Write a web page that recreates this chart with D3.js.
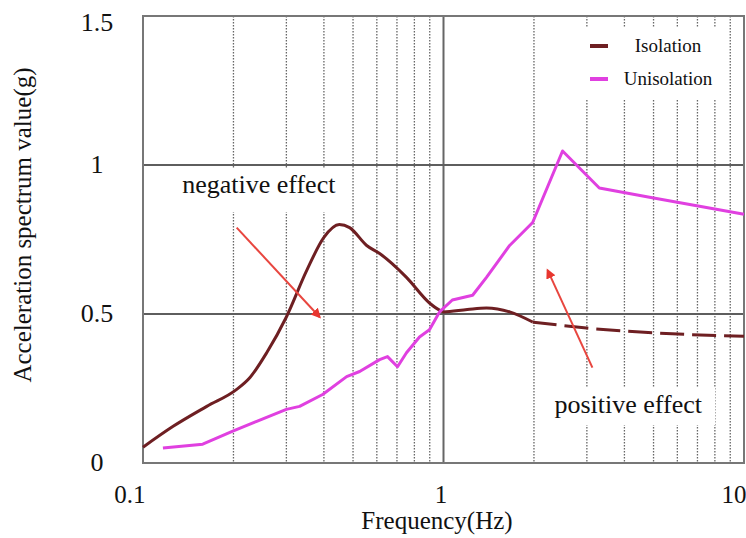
<!DOCTYPE html>
<html>
<head>
<meta charset="utf-8">
<script src="https://cdn.jsdelivr.net/npm/d3@7"></script>
<style>
  body { margin: 0; background: #fff; }
  text { font-family: "Liberation Serif", "Times New Roman", serif; fill: #111; }
</style>
</head>
<body>
<script>
// values
const isoFreq = [0.1, 0.126, 0.163, 0.205, 0.227, 0.258, 0.30, 0.351, 0.40, 0.45, 0.487, 0.555, 0.613, 0.753, 0.898, 0.97, 1.0, 1.2, 1.39, 1.66, 1.98, 2.99, 4.95, 10]
const isoVal  = [0.053, 0.123, 0.19, 0.247, 0.287, 0.37, 0.49, 0.647, 0.757, 0.80, 0.79, 0.73, 0.703, 0.623, 0.537, 0.513, 0.507, 0.515, 0.52, 0.507, 0.473, 0.453, 0.437, 0.425]
const dashFrom = 1.98   // isolation curve turns dashed here

const unisoFreq = [0.1165, 0.158, 0.199, 0.239, 0.30, 0.332, 0.396, 0.476, 0.526, 0.613, 0.651, 0.703, 0.753, 0.832, 0.898, 0.97, 1.07, 1.25, 1.39, 1.66, 1.98, 2.49, 3.30, 4.95, 10]
const unisoVal  = [0.05, 0.063, 0.107, 0.14, 0.18, 0.19, 0.23, 0.29, 0.307, 0.347, 0.357, 0.323, 0.37, 0.423, 0.447, 0.507, 0.547, 0.563, 0.623, 0.73, 0.807, 1.047, 0.923, 0.89, 0.835]

const xTicks = [0.1, 1, 10]
const xTickLabels = ['0.1', '1', '10']
const yTicks = [0, 0.5, 1, 1.5]
const yTickLabels = ['0', '0.5', '1', '1.5']
const yGrid = [0.5, 1]

const seriesNames = ['Isolation', 'Unisolation']
const seriesColors = ['#6e1f22', '#e040e0']

// annotations: label, where the text sits (f,v), arrow from (f,v) to (f,v)
const noteLabels = ['negative effect', 'positive effect']
const noteAt = [[0.135, 0.905], [2.34, 0.168]]
const arrowFrom = [[0.205, 0.79], [3.13, 0.32]]
const arrowTo = [[0.387, 0.49], [2.22, 0.647]]

const margin = {top: 16, right: 2, bottom: 75, left: 143}
, width = 746 - margin.left - margin.right
, height = 538 - margin.top - margin.bottom

const svg = d3.select('body').append('svg')
    .attr('width', 746)
    .attr('height', 538)

const x = d3.scaleLog().domain([0.1, 10]).range([margin.left, margin.left + width])
const y = d3.scaleLinear().domain([0, 1.5]).range([margin.top + height, margin.top])

// vertical grid
svg.selectAll('.vgrid').data(x.ticks())
  .enter().append('line')
    .attr('x1', d => x(d)).attr('x2', d => x(d))
    .attr('y1', y(1.5)).attr('y2', y(0))
    .attr('stroke', d => (d === 1 ? '#666' : '#666'))
    .attr('stroke-width', d => (d === 1 ? 2 : 1.3))
    .attr('stroke-dasharray', d => ([0.1, 1, 10].includes(d) ? null : '1.5,1.5'))

// horizontal grid
svg.selectAll('.hgrid').data(yGrid)
  .enter().append('line')
    .attr('x1', x(0.1)).attr('x2', x(10))
    .attr('y1', d => y(d)).attr('y2', d => y(d))
    .attr('stroke', '#5e5e5e')
    .attr('stroke-width', 2)

// frame
svg.append('rect')
    .attr('x', x(0.1)).attr('y', y(1.5))
    .attr('width', x(10) - x(0.1)).attr('height', y(0) - y(1.5))
    .attr('fill', 'none')
    .attr('stroke', '#777')
    .attr('stroke-width', 2)

// white boxes behind legend and notes (they hide the grid in the original)
svg.append('rect').attr('x', 582).attr('y', 28).attr('width', 146).attr('height', 72).attr('fill', '#fff')
svg.append('rect').attr('x', 165).attr('y', 168).attr('width', 185).attr('height', 44).attr('fill', '#fff')
svg.append('rect').attr('x', 548).attr('y', 388).attr('width', 167).attr('height', 37).attr('fill', '#fff')

// axes (labels only)
const xAxis = svg.append('g')
    .attr('transform', 'translate(0,' + y(0) + ')')
    .call(d3.axisBottom(x).tickValues(xTicks).tickSize(0).tickPadding(22)
      .tickFormat((d, i) => xTickLabels[i]))
xAxis.select('.domain').remove()
xAxis.selectAll('text')
    .attr('font-size', '25px')
    .attr('fill', '#111')
    .attr('text-anchor', (d, i) => (i === 1 ? 'middle' : 'end'))
    .attr('dx', (d, i) => (i === 1 ? -3 : 2))

const yAxis = svg.append('g')
    .attr('transform', 'translate(' + x(0.1) + ',0)')
    .call(d3.axisLeft(y).tickValues(yTicks).tickSize(0).tickPadding(0)
      .tickFormat((d, i) => yTickLabels[i]))
yAxis.select('.domain').remove()
yAxis.selectAll('text')
    .attr('font-size', '26px')
    .attr('fill', '#111')
    .attr('text-anchor', 'middle')
    .attr('x', -46)
    .attr('dy', (d) => (d === 1.5 ? '0.55em' : '0.3em'))

svg.append('text')
    .attr('x', 437).attr('y', 529)
    .attr('text-anchor', 'middle')
    .attr('font-size', '25px')
    .text('Frequency(Hz)')
svg.append('text')
    .attr('transform', 'translate(31,225) rotate(-90)')
    .attr('text-anchor', 'middle')
    .attr('font-size', '25px')
    .text('Acceleration spectrum value(g)')

// curves
const line = d3.line()
    .x(d => x(d[0]))
    .y(d => y(d[1]))

const iso = isoFreq.map((f, i) => [f, isoVal[i]])
svg.append('path')
    .datum(iso.filter(d => d[0] <= dashFrom))
    .attr('d', line.curve(d3.curveMonotoneX))
    .attr('fill', 'none')
    .attr('stroke', seriesColors[0])
    .attr('stroke-width', 3)
svg.append('path')
    .datum(iso.filter(d => d[0] >= dashFrom))
    .attr('d', line.curve(d3.curveMonotoneX))
    .attr('fill', 'none')
    .attr('stroke', seriesColors[0])
    .attr('stroke-width', 3)
    .attr('stroke-dasharray', '24,8')

svg.append('path')
    .datum(unisoFreq.map((f, i) => [f, unisoVal[i]]))
    .attr('d', line.curve(d3.curveLinear))
    .attr('fill', 'none')
    .attr('stroke', seriesColors[1])
    .attr('stroke-width', 3)
    .attr('stroke-linejoin', 'round')

// legend
const legend = svg.selectAll('.legend').data(seriesNames)
  .enter().append('g')
    .attr('transform', (d, i) => 'translate(0,' + (46 + i * 33) + ')')
legend.append('line')
    .attr('x1', 590).attr('x2', 608)
    .attr('stroke', (d, i) => seriesColors[i])
    .attr('stroke-width', 4)
legend.append('text')
    .attr('x', 668).attr('y', 6)
    .attr('text-anchor', 'middle')
    .attr('font-size', '19px')
    .text(d => d)

// notes and arrows
svg.append('defs').append('marker')
    .attr('id', 'head')
    .attr('viewBox', '0 0 10 10')
    .attr('refX', 8).attr('refY', 5)
    .attr('markerWidth', 5).attr('markerHeight', 5)
    .attr('orient', 'auto')
  .append('path')
    .attr('d', 'M0,0L10,5L0,10z')
    .attr('fill', '#e8362f')

svg.selectAll('.arrow').data(arrowFrom)
  .enter().append('line')
    .attr('x1', d => x(d[0])).attr('y1', d => y(d[1]))
    .attr('x2', (d, i) => x(arrowTo[i][0])).attr('y2', (d, i) => y(arrowTo[i][1]))
    .attr('stroke', '#e8463f')
    .attr('stroke-width', 2)
    .attr('marker-end', 'url(#head)')

svg.selectAll('.note').data(noteLabels)
  .enter().append('text')
    .attr('x', (d, i) => x(noteAt[i][0]))
    .attr('y', (d, i) => y(noteAt[i][1]))
    .attr('font-size', '26px')
    .text(d => d)
</script>
</body>
</html>
